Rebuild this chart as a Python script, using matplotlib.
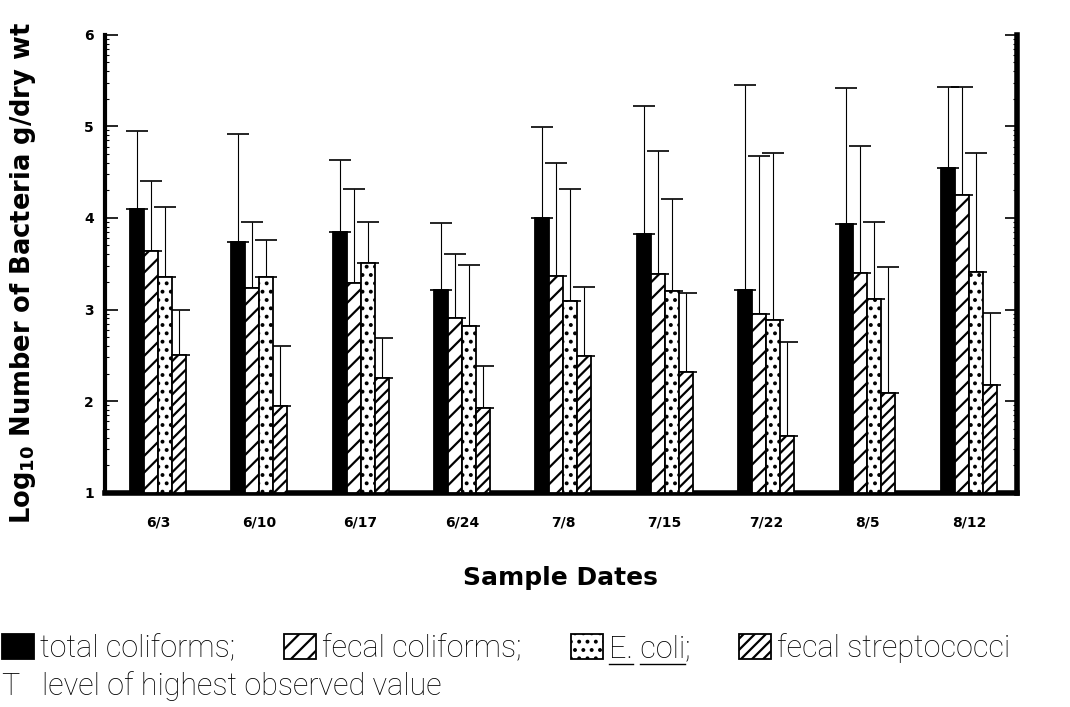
import numpy as np
import matplotlib
matplotlib.use('Agg')
import matplotlib.pyplot as plt
from matplotlib.ticker import FixedLocator
from matplotlib.lines import Line2D

# ----- data (log10 counts)
dates = ['6/3', '6/10', '6/17', '6/24', '7/8', '7/15', '7/22', '8/5', '8/12']
total_coli = [4.10, 3.74, 3.85, 3.21, 4.00, 3.82, 3.21, 3.93, 4.54]
fecal_coli = [3.64, 3.24, 3.29, 2.91, 3.37, 3.39, 2.95, 3.40, 4.25]
e_coli = [3.35, 3.36, 3.51, 2.82, 3.09, 3.20, 2.89, 3.11, 3.41]
fecal_strep = [2.50, 1.95, 2.25, 1.92, 2.49, 2.32, 1.62, 2.09, 2.18]
# highest observed value (top of the "T")
total_max = [4.95, 4.92, 4.63, 3.94, 4.99, 5.22, 5.45, 5.42, 5.43]
fecal_max = [4.40, 3.95, 4.31, 3.61, 4.60, 4.73, 4.68, 4.79, 5.43]
ecoli_max = [4.12, 3.76, 3.96, 3.49, 4.32, 4.21, 4.71, 3.96, 4.71]
strep_max = [2.99, 2.60, 2.69, 2.38, 3.25, 3.18, 2.65, 3.46, 2.96]

series = [
    ('total coliforms;', total_coli, total_max, 'black', ''),
    ('fecal coliforms;', fecal_coli, fecal_max, 'white', '//'),
    ('E. coli;', e_coli, ecoli_max, 'white', '..'),
    ('fecal streptococci', fecal_strep, strep_max, 'white', '///'),
]

plt.rcParams['hatch.linewidth'] = 1.6
fig = plt.figure(figsize=(10.7, 7.07), dpi=100)
ax = fig.add_axes([0.098, 0.303, 0.852, 0.648])

x = np.arange(len(dates))
w = 0.138
handles = []
for i, (lab, vals, mx, fc, hatch) in enumerate(series):
    vals = np.array(vals)
    mx = np.array(mx)
    xs = x + (i - 1.5) * w
    b = ax.bar(xs, vals - 1, bottom=1, width=w, color=fc, edgecolor='black',
               linewidth=1.3, hatch=hatch, label=lab, zorder=3)
    handles.append(b)
    ax.errorbar(xs, vals, yerr=[np.zeros_like(vals), mx - vals], fmt='none',
                ecolor='black', elinewidth=0.8, capsize=8, capthick=1.2, zorder=2)

ax.set_xlim(-0.523, 8.47)
ax.set_ylim(1, 6)
ax.set_xticks(x)
ax.set_xticklabels(dates, fontweight='bold', fontsize=10)
ax.set_yticks([1, 2, 3, 4, 5, 6])
ax.set_yticklabels(['1', '2', '3', '4', '5', '6'], fontweight='bold', fontsize=10)
minor = [k + np.log10(m) for k in range(1, 6) for m in range(2, 10)]
ax.yaxis.set_minor_locator(FixedLocator(minor))
ax.tick_params(axis='x', length=0, pad=16)
ax.tick_params(axis='y', which='major', direction='in', length=9, width=1.2,
               right=True, pad=8)
ax.tick_params(axis='y', which='minor', direction='in', length=3, width=0.8, right=True)

ax.spines['top'].set_visible(False)
ax.spines['left'].set_linewidth(3)
ax.spines['bottom'].set_linewidth(4)
ax.spines['right'].set_linewidth(4)

ax.set_xlabel('Sample Dates', fontweight='bold', fontsize=18)
ax.xaxis.set_label_coords(0.5, -0.16)
ax.set_ylabel(r'Log$_{\mathbf{10}}$ Number of Bacteria g/dry wt',
              fontweight='bold', fontsize=18.5)
ax.yaxis.set_label_coords(-0.073, 0.48)

leg_font = {'family': ['Roboto', 'DejaVu Sans'], 'weight': 'light', 'size': 22}
leg = fig.legend(handles=handles, labels=[s[0] for s in series], loc='center left',
                 bbox_to_anchor=(-0.024, 0.083), ncol=4, frameon=False,
                 prop=leg_font, handlelength=1.05, handleheight=0.9,
                 handletextpad=0.2, columnspacing=1.6)
fig.text(0.002, 0.03, 'T   level of highest observed value',
         fontdict=leg_font, va='center', ha='left')

# underline "E." and "coli" in the legend
fig.canvas.draw()
r = fig.canvas.get_renderer()
t = leg.get_texts()[2]
bb = t.get_window_extent(r)
prop = t.get_fontproperties()
_, _, desc = r.get_text_width_height_descent('E. coli;', prop, ismath=False)
ybase = bb.y0 + desc - 4
W, H = fig.bbox.width, fig.bbox.height
for a, b_ in [('', 'E.'), ('E. ', 'E. coli')]:
    x0 = bb.x0 + (r.get_text_width_height_descent(a, prop, ismath=False)[0] if a else 0)
    x1 = bb.x0 + r.get_text_width_height_descent(b_, prop, ismath=False)[0]
    fig.add_artist(Line2D([x0 / W, x1 / W], [ybase / H, ybase / H],
                          transform=fig.transFigure, color='black', lw=1))

fig.savefig('out.png', dpi=100)
